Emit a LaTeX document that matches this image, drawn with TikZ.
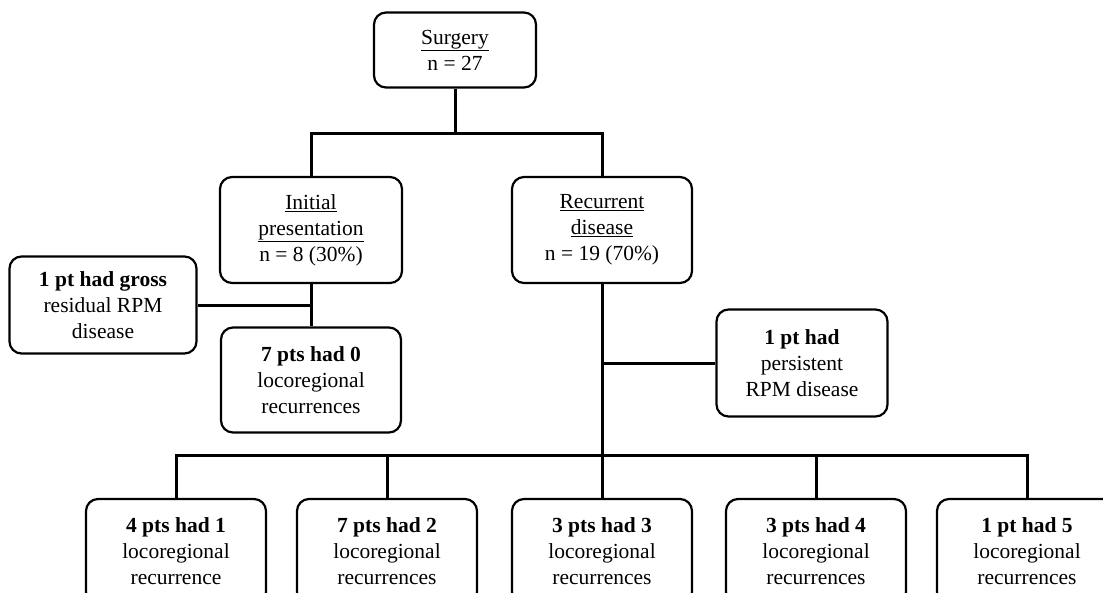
\documentclass[tikz,border=0pt]{standalone}
\usepackage{fontspec}
\setmainfont{Liberation Serif}
\usepackage{tikz}

\tikzset{
  box/.style={draw, line width=2.2pt, rounded corners=12pt, align=center, inner sep=0pt,
    minimum width=180pt, minimum height=105pt, font=\fontsize{21.5}{26}\selectfont},
  link/.style={line width=3pt}
}

\begin{document}
\begin{tikzpicture}[x=1pt,y=1pt]
  \useasboundingbox (0,0) rectangle (1103,-592);
  % top part
  \node[box, minimum width=162pt, minimum height=75pt] (surgery) at (455,-50) {\underline{Surgery}\\ n = 27};
  \node[box, minimum width=182pt, minimum height=106pt] (initial) at (311,-230) {\underline{Initial}\\ \underline{presentation}\\ n = 8 (30\%)};
  \node[box, minimum height=106pt] (recurrent) at (602,-230) {\underline{Recurrent}\\ \underline{disease}\\ n = 19 (70\%)};
  \node[box, minimum width=187pt, minimum height=97pt] (gross) at (103,-305) {\textbf{1 pt had gross}\\ residual RPM\\ disease};
  \node[box] (zero) at (311,-380) {\textbf{7 pts had 0}\\ locoregional\\ recurrences};
  \node[box, minimum width=171pt, minimum height=107pt] (persist) at (802,-363) {\textbf{1 pt had}\\ persistent\\ RPM disease};
  % bottom row
  \node[box] (r1) at (176,-551.5) {\textbf{4 pts had 1}\\ locoregional\\ recurrence};
  \node[box] (r2) at (387,-551.5) {\textbf{7 pts had 2}\\ locoregional\\ recurrences};
  \node[box] (r3) at (602,-551.5) {\textbf{3 pts had 3}\\ locoregional\\ recurrences};
  \node[box] (r4) at (816,-551.5) {\textbf{3 pts had 4}\\ locoregional\\ recurrences};
  \node[box] (r5) at (1027,-551.5) {\textbf{1 pt had 5}\\ locoregional\\ recurrences};
  % connectors
  \coordinate (split) at (455,-133); \coordinate (bus) at (602,-455);
  \draw[link] (surgery.south) -- (split);
  \draw[link] (initial.north) |- (split) -| (recurrent.north);
  \draw[link] (initial.south) -- (zero.north);
  \draw[link] (gross.east) -- (gross.east -| initial.south);
  \draw[link] (recurrent.south) -- (bus);
  \draw[link] (persist.west) -- (persist.west -| recurrent.south);
  \draw[link] (r1.north) |- (bus) -| (r5.north);
  \foreach \n in {r2,r3,r4} \draw[link] (\n.north) -- (\n.north |- bus);
\end{tikzpicture}
\end{document}
